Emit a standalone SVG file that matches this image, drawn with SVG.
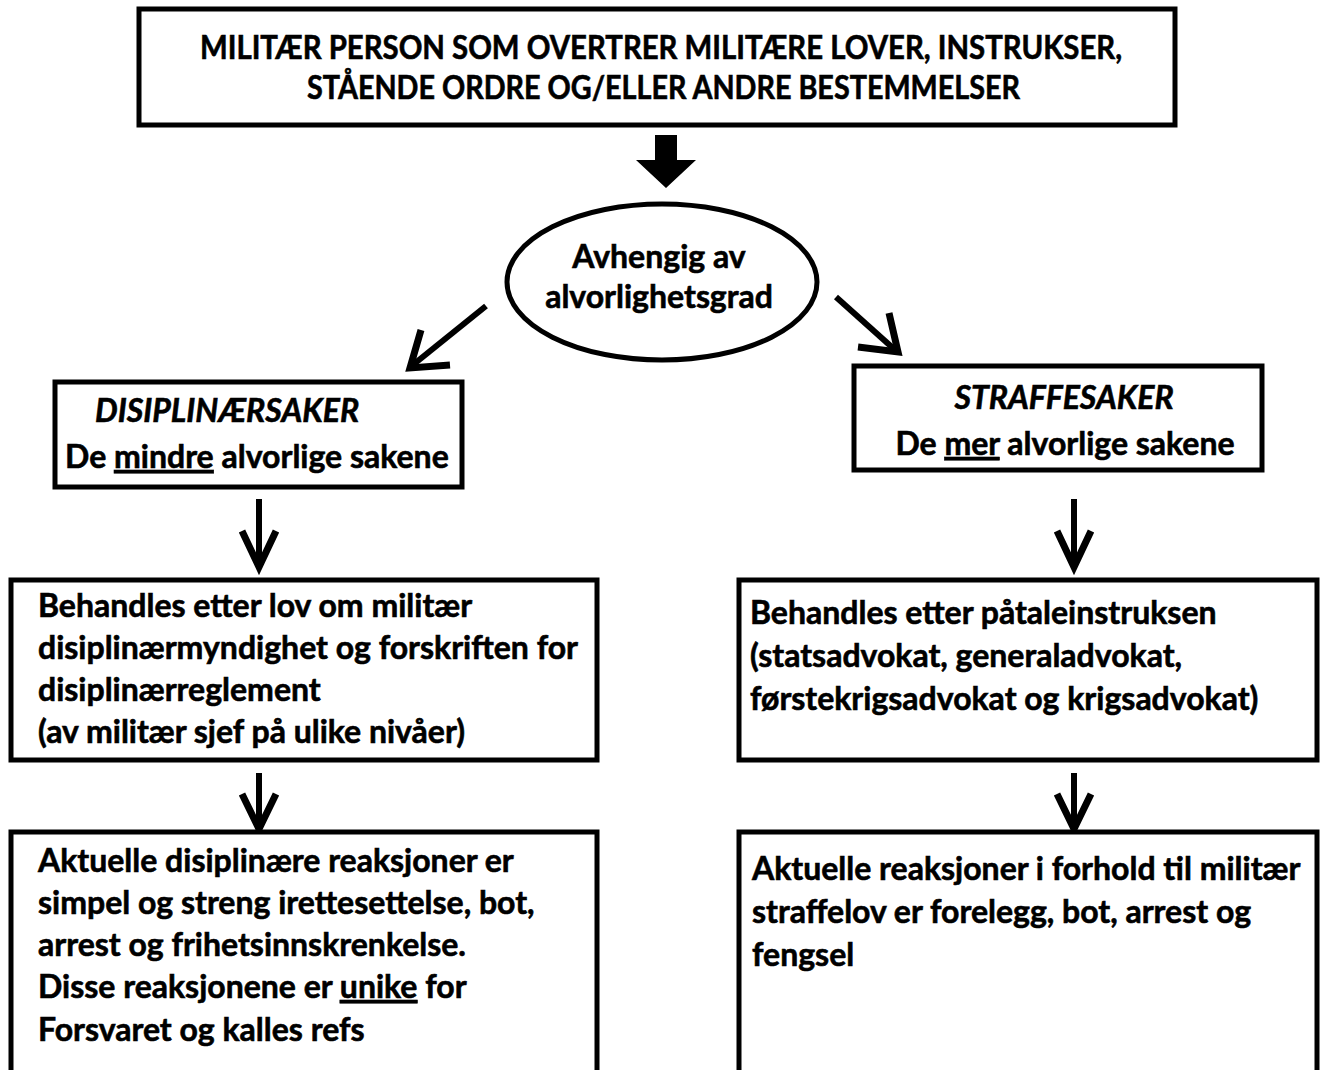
<svg xmlns="http://www.w3.org/2000/svg" width="1325" height="1070" viewBox="0 0 1325 1070">
<style>
.box{fill:#fff;stroke:#000;stroke-width:5}
.t{font-family:Lato,"Liberation Sans",sans-serif;font-weight:700;font-size:32px;fill:#000;stroke:#000;stroke-width:0.6}
.c{text-anchor:middle}
.i{font-style:italic}
.u{text-decoration:underline}
.arr{fill:none;stroke:#000;stroke-width:7;stroke-linejoin:miter;stroke-linecap:butt}
.shaft{stroke:#000;stroke-width:6}
</style>
<rect width="1325" height="1070" fill="#fff"/>
<g id="connectors">
<polygon points="655,135 677,135 677,160 696,160 666,188 636,160 655,160" fill="#000"/>
<line class="shaft" x1="486" y1="306" x2="414" y2="364" stroke-width="8"/>
<polyline class="arr" points="421,330 410,368 450,365"/>
<line class="shaft" x1="836" y1="297" x2="894" y2="349" stroke-width="8"/>
<polyline class="arr" points="889,313 898,352 858,347"/>
<line class="shaft" x1="259" y1="499" x2="259" y2="564"/>
<polyline class="arr" points="242,531 259,567 276,531"/>
<line class="shaft" x1="1074" y1="499" x2="1074" y2="564"/>
<polyline class="arr" points="1057,531 1074,567 1091,531"/>
<line class="shaft" x1="259" y1="773" x2="259" y2="826"/>
<polyline class="arr" points="242,794 259,829 276,794"/>
<line class="shaft" x1="1074" y1="773" x2="1074" y2="826"/>
<polyline class="arr" points="1057,794 1074,829 1091,794"/>
</g>
<g id="top">
<rect class="box" x="139" y="9" width="1036" height="116"/>
<text class="t" x="200" y="59" textLength="922" lengthAdjust="spacingAndGlyphs">MILITÆR PERSON SOM OVERTRER MILITÆRE LOVER, INSTRUKSER,</text>
<text class="t" x="307" y="99" textLength="713" lengthAdjust="spacingAndGlyphs">STÅENDE ORDRE OG/ELLER ANDRE BESTEMMELSER</text>
</g>
<g id="decision">
<ellipse cx="662" cy="282" rx="155" ry="78" fill="#fff" stroke="#000" stroke-width="5"/>
<text class="t c" x="659" y="268">Avhengig av</text>
<text class="t c" x="659" y="308">alvorlighetsgrad</text>
</g>
<g id="disiplin">
<rect class="box" x="55" y="382" width="407" height="105"/>
<text class="t i" x="95" y="422">DISIPLINÆRSAKER</text>
<text class="t" x="65" y="468">De <tspan class="u">mindre</tspan> alvorlige sakene</text>
</g>
<g id="straffe">
<rect class="box" x="854" y="366" width="408" height="104"/>
<text class="t i c" x="1064" y="409">STRAFFESAKER</text>
<text class="t c" x="1065" y="455">De <tspan class="u">mer</tspan> alvorlige sakene</text>
</g>
<g id="disiplin-behandling">
<rect class="box" x="11" y="580" width="586" height="180"/>
<text class="t" x="38" y="617">Behandles etter lov om militær</text>
<text class="t" x="38" y="659">disiplinærmyndighet og forskriften for</text>
<text class="t" x="38" y="701">disiplinærreglement</text>
<text class="t" x="38" y="743">(av militær sjef på ulike nivåer)</text>
</g>
<g id="straffe-behandling">
<rect class="box" x="739" y="580" width="578" height="180"/>
<text class="t" x="750" y="624">Behandles etter påtaleinstruksen</text>
<text class="t" x="750" y="667">(statsadvokat, generaladvokat,</text>
<text class="t" x="750" y="710">førstekrigsadvokat og krigsadvokat)</text>
</g>
<g id="disiplin-reaksjoner">
<rect class="box" x="11" y="832" width="586" height="250"/>
<text class="t" x="38" y="872">Aktuelle disiplinære reaksjoner er</text>
<text class="t" x="38" y="914">simpel og streng irettesettelse, bot,</text>
<text class="t" x="38" y="956">arrest og frihetsinnskrenkelse.</text>
<text class="t" x="38" y="998">Disse reaksjonene er <tspan class="u">unike</tspan> for</text>
<text class="t" x="38" y="1041">Forsvaret og kalles refs</text>
</g>
<g id="straffe-reaksjoner">
<rect class="box" x="739" y="832" width="578" height="250"/>
<text class="t" x="752" y="880">Aktuelle reaksjoner i forhold til militær</text>
<text class="t" x="752" y="923">straffelov er forelegg, bot, arrest og</text>
<text class="t" x="752" y="966">fengsel</text>
</g>
</svg>
